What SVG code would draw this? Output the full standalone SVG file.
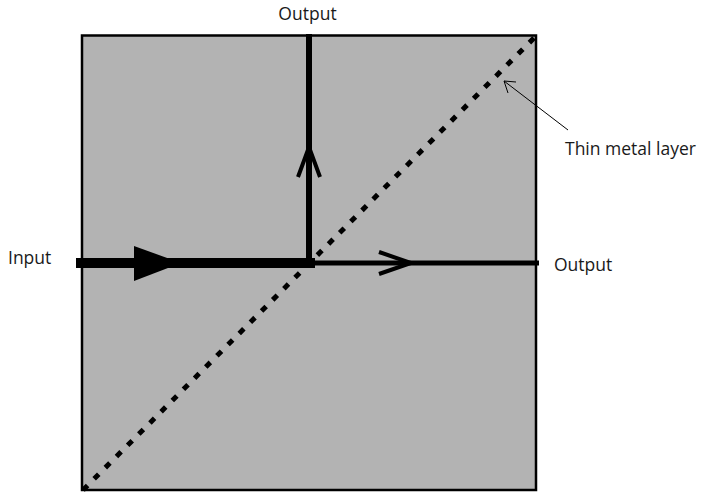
<svg xmlns="http://www.w3.org/2000/svg" width="702" height="493" viewBox="0 0 702 493">
<style>
text{font-family:"Open Sans","Liberation Sans",sans-serif;font-size:17.5px;fill:#1a1a1a}
.ln{stroke:#000;fill:none}
</style>
<rect width="702" height="493" fill="#fff"/>
<g id="box"><rect x="82" y="35.5" width="454" height="454.5" fill="#b3b3b3" stroke="#000" stroke-width="2.5"/></g>
<g id="layer"><line x1="83" y1="490" x2="536" y2="36" class="ln" stroke-width="5" stroke-dasharray="6.5 9.3"/></g>
<g id="connectors">
<line x1="76" y1="263" x2="315" y2="263" class="ln" stroke-width="10"/>
<polygon points="134,246 181,263 134,281" fill="#000"/>
<line x1="309" y1="34" x2="309" y2="266" class="ln" stroke-width="6"/>
<polyline points="298,177 309,147 320,177" class="ln" stroke-width="4"/>
<line x1="312" y1="263" x2="539" y2="263" class="ln" stroke-width="5"/>
<polyline points="379,252 411,263 379,274" class="ln" stroke-width="4"/>
<line x1="568" y1="130" x2="504" y2="81" class="ln" stroke-width="1"/>
<polyline points="516,82 504,81 508,93" class="ln" stroke-width="1"/>
</g>
<g id="labels">
<text x="307.5" y="20" text-anchor="middle">Output</text>
<text x="8" y="264">Input</text>
<text x="554" y="271">Output</text>
<text x="565" y="155">Thin metal layer</text>
</g>
</svg>
